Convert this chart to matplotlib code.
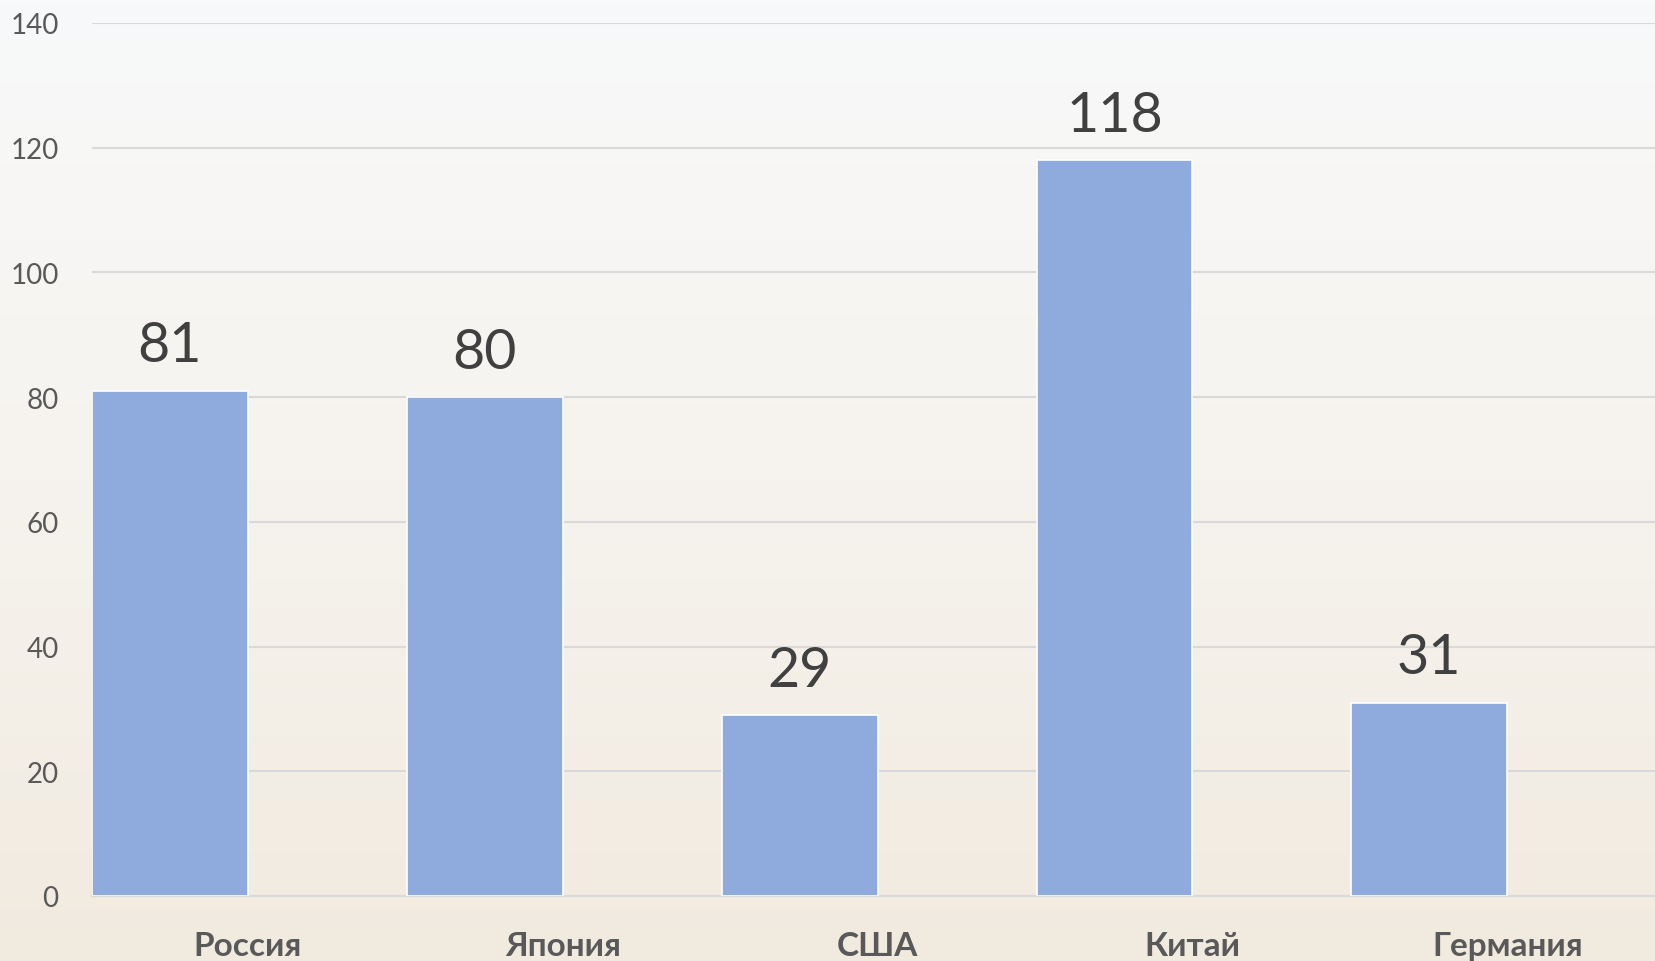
import numpy as np
import matplotlib
matplotlib.use("Agg")
import matplotlib.pyplot as plt
from matplotlib.colors import LinearSegmentedColormap

# data
countries = ["Россия", "Япония", "США", "Китай", "Германия"]
values = [81, 80, 29, 118, 31]
y_ticks = [0, 20, 40, 60, 80, 100, 120, 140]

plt.rcParams['font.family'] = ['Lato', 'DejaVu Sans']

fig = plt.figure(figsize=(16.56, 9.62), dpi=100)

# soft background instead of the photo
bg = fig.add_axes([0, 0, 1, 1], zorder=0)
grad = np.linspace(0, 1, 256).reshape(-1, 1)
cmap = LinearSegmentedColormap.from_list("bg", ["#F8F9FA", "#F6F3EE", "#F1EADF"])
bg.imshow(grad, aspect='auto', cmap=cmap, extent=[0, 1, 0, 1], origin='upper')
bg.axis('off')

ax = fig.add_axes([92 / 1656, 1 - 897 / 962, 1 - 92 / 1656, (897 - 24) / 962], zorder=1)
ax.patch.set_alpha(0)

x = np.arange(len(countries))
w = 0.495
bars = ax.bar(x, values, width=w, color="#8FAADC", edgecolor="white", linewidth=1.2, zorder=3)

for xi, v in zip(x, values):
    ax.annotate(str(v), (xi, v), xytext=(0, 14), textcoords='offset points',
                ha='center', va='bottom', fontsize=40, color="#404040")

ax.set_ylim(0, 140)
ax.set_xlim(-w / 2, 4.72)
ax.set_yticks(y_ticks)
ax.grid(axis='y', color="#D9D9D9", linewidth=1.5, zorder=0)
ax.tick_params(axis='y', length=0, pad=24, labelsize=20, labelcolor="#595959")

# category labels sit at the right edge of each bar
ax.set_xticks(x + w / 2)
ax.set_xticklabels(countries, fontsize=24, fontweight='bold', color="#595959")
ax.tick_params(axis='x', length=0, pad=25)

for s in ['top', 'right', 'left']:
    ax.spines[s].set_visible(False)
ax.spines['bottom'].set_color("#D9D9D9")
ax.spines['bottom'].set_linewidth(1.5)

fig.savefig("out.png", dpi=100)
